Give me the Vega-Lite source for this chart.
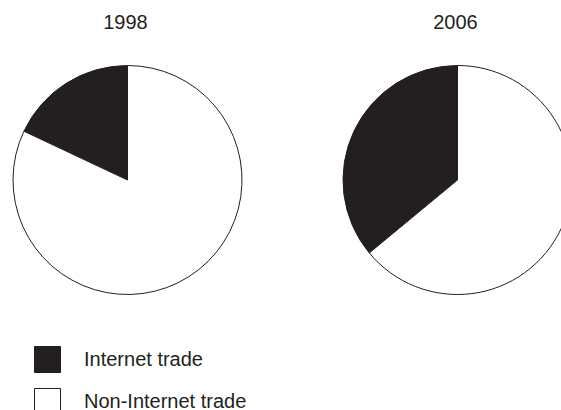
{
  "$schema": "https://vega.github.io/schema/vega-lite/v6.json",
  "width": 561,
  "height": 360,
  "autosize": {"type": "none"},
  "padding": {"left": 0, "top": 0, "right": 0, "bottom": 50},
  "background": "#ffffff",
  "config": {
    "view": {"stroke": null},
    "font": "Liberation Sans",
    "legend": {
      "orient": "none",
      "legendX": 34,
      "legendY": 346,
      "padding": 0,
      "symbolType": "square",
      "symbolSize": 676,
      "symbolStrokeColor": "#231f20",
      "symbolStrokeWidth": 1,
      "labelFontSize": 20,
      "labelFont": "Liberation Sans",
      "labelColor": "#231f20",
      "labelOffset": 23,
      "rowPadding": 11,
      "labelLimit": 400
    }
  },
  "data": {
    "values": [
      {"year": 1998, "category": "Internet trade", "share": 18},
      {"year": 1998, "category": "Non-Internet trade", "share": 82},
      {"year": 2006, "category": "Internet trade", "share": 36},
      {"year": 2006, "category": "Non-Internet trade", "share": 64}
    ]
  },
  "layer": [
    {
      "transform": [
        {"stack": "share", "groupby": ["year"], "sort": [{"field": "category", "order": "descending"}], "as": ["t0", "t1"]}
      ],
      "mark": {"type": "arc", "radius": 114.5, "stroke": "#231f20", "strokeWidth": 1},
      "encoding": {
        "x": {"field": "year", "type": "quantitative", "stack": null, "scale": {"domain": [1994.9091, 2008.5091], "nice": false, "zero": false}, "axis": null},
        "theta": {"field": "t0", "type": "quantitative", "stack": null, "scale": {"domain": [0, 100], "zero": true, "nice": false}},
        "theta2": {"field": "t1"},
        "color": {"field": "category", "type": "nominal", "title": null,
          "scale": {"domain": ["Internet trade", "Non-Internet trade"], "range": ["#231f20", "#ffffff"]}}
      }
    },
    {
      "transform": [{"filter": "datum.category == 'Internet trade'"}],
      "mark": {"type": "text", "fontSize": 20, "font": "Liberation Sans", "color": "#231f20", "baseline": "alphabetic", "align": "center", "dy": -151, "dx": -2},
      "encoding": {
        "x": {"field": "year", "type": "quantitative", "stack": null, "scale": {"domain": [1994.9091, 2008.5091], "nice": false, "zero": false}, "axis": null},
        "text": {"field": "year", "type": "nominal"}
      }
    }
  ]
}
